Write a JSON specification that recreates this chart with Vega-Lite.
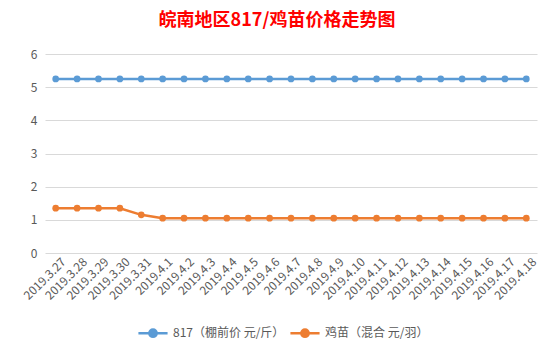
{
  "$schema": "https://vega.github.io/schema/vega-lite/v6.json",
  "width": 492,
  "height": 199,
  "autosize": "none",
  "padding": {"left": 45, "top": 54, "right": 18, "bottom": 100},
  "background": "white",
  "title": {
    "text": "皖南地区817/鸡苗价格走势图",
    "font": "Noto Sans CJK SC",
    "fontSize": 18,
    "fontWeight": "bold",
    "color": "#FF0000",
    "anchor": "middle",
    "dx": -14,
    "offset": 18
  },
  "data": {
    "values": [
      {"date": "2019.3.27", "s": "817（棚前价 元/斤）", "v": 5.25},
      {"date": "2019.3.28", "s": "817（棚前价 元/斤）", "v": 5.25},
      {"date": "2019.3.29", "s": "817（棚前价 元/斤）", "v": 5.25},
      {"date": "2019.3.30", "s": "817（棚前价 元/斤）", "v": 5.25},
      {"date": "2019.3.31", "s": "817（棚前价 元/斤）", "v": 5.25},
      {"date": "2019.4.1", "s": "817（棚前价 元/斤）", "v": 5.25},
      {"date": "2019.4.2", "s": "817（棚前价 元/斤）", "v": 5.25},
      {"date": "2019.4.3", "s": "817（棚前价 元/斤）", "v": 5.25},
      {"date": "2019.4.4", "s": "817（棚前价 元/斤）", "v": 5.25},
      {"date": "2019.4.5", "s": "817（棚前价 元/斤）", "v": 5.25},
      {"date": "2019.4.6", "s": "817（棚前价 元/斤）", "v": 5.25},
      {"date": "2019.4.7", "s": "817（棚前价 元/斤）", "v": 5.25},
      {"date": "2019.4.8", "s": "817（棚前价 元/斤）", "v": 5.25},
      {"date": "2019.4.9", "s": "817（棚前价 元/斤）", "v": 5.25},
      {"date": "2019.4.10", "s": "817（棚前价 元/斤）", "v": 5.25},
      {"date": "2019.4.11", "s": "817（棚前价 元/斤）", "v": 5.25},
      {"date": "2019.4.12", "s": "817（棚前价 元/斤）", "v": 5.25},
      {"date": "2019.4.13", "s": "817（棚前价 元/斤）", "v": 5.25},
      {"date": "2019.4.14", "s": "817（棚前价 元/斤）", "v": 5.25},
      {"date": "2019.4.15", "s": "817（棚前价 元/斤）", "v": 5.25},
      {"date": "2019.4.16", "s": "817（棚前价 元/斤）", "v": 5.25},
      {"date": "2019.4.17", "s": "817（棚前价 元/斤）", "v": 5.25},
      {"date": "2019.4.18", "s": "817（棚前价 元/斤）", "v": 5.25},
      {"date": "2019.3.27", "s": "鸡苗（混合 元/羽）", "v": 1.35},
      {"date": "2019.3.28", "s": "鸡苗（混合 元/羽）", "v": 1.35},
      {"date": "2019.3.29", "s": "鸡苗（混合 元/羽）", "v": 1.35},
      {"date": "2019.3.30", "s": "鸡苗（混合 元/羽）", "v": 1.35},
      {"date": "2019.3.31", "s": "鸡苗（混合 元/羽）", "v": 1.15},
      {"date": "2019.4.1", "s": "鸡苗（混合 元/羽）", "v": 1.05},
      {"date": "2019.4.2", "s": "鸡苗（混合 元/羽）", "v": 1.05},
      {"date": "2019.4.3", "s": "鸡苗（混合 元/羽）", "v": 1.05},
      {"date": "2019.4.4", "s": "鸡苗（混合 元/羽）", "v": 1.05},
      {"date": "2019.4.5", "s": "鸡苗（混合 元/羽）", "v": 1.05},
      {"date": "2019.4.6", "s": "鸡苗（混合 元/羽）", "v": 1.05},
      {"date": "2019.4.7", "s": "鸡苗（混合 元/羽）", "v": 1.05},
      {"date": "2019.4.8", "s": "鸡苗（混合 元/羽）", "v": 1.05},
      {"date": "2019.4.9", "s": "鸡苗（混合 元/羽）", "v": 1.05},
      {"date": "2019.4.10", "s": "鸡苗（混合 元/羽）", "v": 1.05},
      {"date": "2019.4.11", "s": "鸡苗（混合 元/羽）", "v": 1.05},
      {"date": "2019.4.12", "s": "鸡苗（混合 元/羽）", "v": 1.05},
      {"date": "2019.4.13", "s": "鸡苗（混合 元/羽）", "v": 1.05},
      {"date": "2019.4.14", "s": "鸡苗（混合 元/羽）", "v": 1.05},
      {"date": "2019.4.15", "s": "鸡苗（混合 元/羽）", "v": 1.05},
      {"date": "2019.4.16", "s": "鸡苗（混合 元/羽）", "v": 1.05},
      {"date": "2019.4.17", "s": "鸡苗（混合 元/羽）", "v": 1.05},
      {"date": "2019.4.18", "s": "鸡苗（混合 元/羽）", "v": 1.05}
    ]
  },
  "mark": {"type": "line", "strokeWidth": 2.5, "point": {"filled": true, "size": 45, "opacity": 1}},
  "encoding": {
    "x": {
      "field": "date",
      "type": "ordinal",
      "sort": null,
      "scale": {"type": "point", "padding": 0.5},
      "axis": {
        "title": null,
        "labelAngle": -45,
        "labelFont": "Noto Sans CJK SC",
        "labelFontSize": 12,
        "labelColor": "#595959",
        "domain": false,
        "ticks": false,
        "grid": false,
        "labelPadding": 3,
        "labelOffset": 4
      }
    },
    "y": {
      "field": "v",
      "type": "quantitative",
      "scale": {"domain": [0, 6]},
      "axis": {
        "title": null,
        "values": [0, 1, 2, 3, 4, 5, 6],
        "labelFont": "Noto Sans CJK SC",
        "labelFontSize": 12,
        "labelColor": "#595959",
        "domain": false,
        "ticks": false,
        "labelPadding": 8,
        "gridColor": "#D9D9D9",
        "gridWidth": 1
      }
    },
    "color": {
      "field": "s",
      "type": "nominal",
      "scale": {"domain": ["817（棚前价 元/斤）", "鸡苗（混合 元/羽）"], "range": ["#5B9BD5", "#ED7D31"]},
      "legend": {
        "title": null,
        "orient": "none",
        "legendX": 92,
        "legendY": 263,
        "direction": "horizontal",
        "labelFont": "Noto Sans CJK SC",
        "labelFontSize": 12,
        "labelColor": "#595959",
        "symbolType": "M-1,0H1M-0.25,0A0.25,0.25 0 1,1 0.25,0A0.25,0.25 0 1,1 -0.25,0",
        "symbolSize": 850,
        "symbolStrokeWidth": 2.5,
        "labelOffset": 4,
        "columnPadding": 0
      }
    }
  },
  "config": {"view": {"stroke": null}}
}
